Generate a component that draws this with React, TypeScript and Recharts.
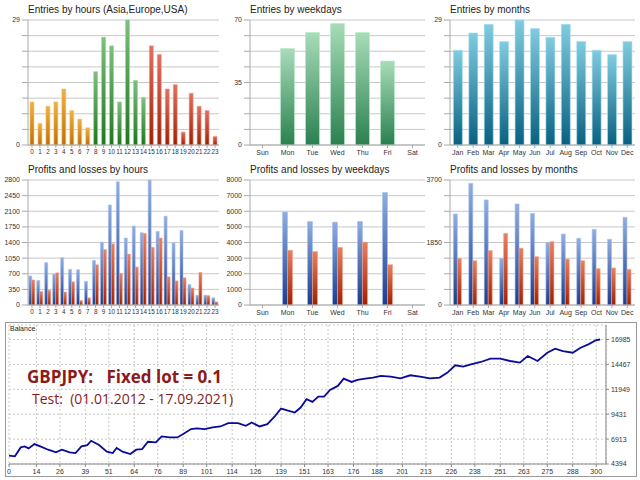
import React from "react";
import {
  Bar,
  BarChart,
  CartesianGrid,
  Line,
  LineChart,
  XAxis,
  YAxis,
} from "recharts";

const hours = Array.from({ length: 24 }, (_, i) => String(i));
const hourEntries = [10, 5, 9, 10, 13, 8, 6, 4, 17, 25, 23, 10, 29, 15, 11, 23, 21, 13, 14, 3, 12, 9, 8, 2];
const hourProfit = [650, 550, 950, 690, 1060, 800, 790, 530, 1000, 1410, 2240, 2760, 1500, 1770, 1620, 2800, 1650, 1990, 1390, 1670, 460, 220, 220, 160];
const hourLoss = [560, 300, 330, 720, 290, 520, 100, 160, 900, 1240, 1370, 710, 1140, 850, 1600, 1290, 1500, 630, 540, 610, 380, 730, 210, 70];

const weekdays = ["Sun", "Mon", "Tue", "Wed", "Thu", "Fri", "Sat"];
const weekdayEntries = [0, 54, 63, 68, 63, 47, 0];
const weekdayProfit = [0, 5950, 5350, 5300, 5350, 7200, 0];
const weekdayLoss = [0, 3500, 3420, 3680, 4020, 2580, 0];

const months = ["Jan", "Feb", "Mar", "Apr", "May", "Jun", "Jul", "Aug", "Sep", "Oct", "Nov", "Dec"];
const monthEntries = [22, 26, 28, 24, 29, 27, 25, 28, 24, 22, 21, 24];
const monthProfit = [2695, 3600, 3110, 1380, 2990, 2710, 1845, 2100, 1975, 2240, 1945, 2595];
const monthLoss = [1380, 1310, 1610, 2120, 1680, 1430, 1875, 1360, 1310, 1075, 1095, 1055];

const balanceX = [0, 3, 6, 8, 10, 13, 16, 20, 24, 27, 31, 34, 37, 40, 42, 46, 50, 53, 55, 58, 62, 65, 68, 71, 75, 78, 82, 86, 89, 93, 96, 100, 104, 108, 112, 117, 121, 124, 128, 132, 136, 139, 143, 146, 149, 152, 155, 158, 161, 164, 168, 171, 175, 178, 182, 186, 190, 195, 200, 205, 210, 215, 220, 224, 228, 232, 236, 241, 246, 251, 256, 261, 265, 270, 275, 279, 283, 288, 292, 296, 300, 302];
const balanceY = [5233, 5166, 6073, 6173, 5972, 6410, 6173, 5838, 5570, 5838, 5570, 5502, 6173, 6308, 6744, 6308, 5637, 5502, 6006, 5637, 5401, 5838, 5905, 6643, 6576, 7183, 7082, 7082, 7418, 7922, 7989, 7922, 8090, 8190, 8527, 8527, 8258, 8594, 8190, 8426, 9265, 10003, 9769, 9601, 10105, 10944, 10676, 11213, 11213, 11886, 12290, 13028, 12693, 12894, 13028, 13130, 13298, 13230, 13062, 13365, 13230, 13062, 13130, 13634, 14373, 14239, 14474, 14709, 15045, 15045, 14810, 14642, 15314, 14810, 15650, 16053, 15818, 15650, 16154, 16490, 16926, 16985];
const balanceXTicks = [0, 14, 26, 39, 51, 64, 76, 89, 101, 114, 126, 139, 151, 163, 176, 188, 201, 213, 226, 238, 251, 263, 275, 288, 300];
const balanceYTicks = [4394, 6913, 9431, 11949, 14467, 16985];

const font = "'Liberation Sans', Arial, sans-serif";
const tick = { fill: "#333", fontSize: 7, fontFamily: font };
const gridColor = "#c8c8c8";

function ticksOf(max: number) {
  return Array.from({ length: 9 }, (_, i) => (max * i) / 8);
}

function Grad({ id, top, bottom }: { id: string; top: string; bottom: string }) {
  return (
    <linearGradient id={id} x1="0" y1="0" x2="0" y2="1">
      <stop offset="0%" stopColor={top} />
      <stop offset="100%" stopColor={bottom} />
    </linearGradient>
  );
}

type PanelProps = {
  title: string;
  left: number;
  top: number;
  width: number;
  data: Record<string, string | number>[];
  max: number;
  shown: number[];
  children: React.ReactNode;
  gap?: string;
  xFont?: number;
};

function Panel({ title, left, top, width, data, max, shown, children, gap = "25%", xFont = 7 }: PanelProps) {
  return (
    <div style={{ position: "absolute", left, top, width, height: 158 }}>
      <div style={{ position: "absolute", left: 28, top: 4, fontSize: 10, fontFamily: font, color: "#222" }}>{title}</div>
      <BarChart width={width} height={158} data={data} margin={{ top: 20, right: 3, left: 0, bottom: 0 }} barCategoryGap={gap} barGap={0}>
        <defs>
          <Grad id="gOrange" top="#f0b040" bottom="#c07000" />
          <Grad id="gGreen" top="#7cc07c" bottom="#1a7a1a" />
          <Grad id="gRed" top="#e07060" bottom="#a02000" />
          <Grad id="gMint" top="#a8dcb8" bottom="#2a8050" />
          <Grad id="gCyan" top="#80cce0" bottom="#086080" />
          <Grad id="gBlue" top="#90aee0" bottom="#1a3c90" />
          <Grad id="gLoss" top="#e88060" bottom="#a02000" />
        </defs>
        <CartesianGrid vertical={false} stroke={gridColor} />
        <XAxis dataKey="name" tick={{ ...tick, fontSize: xFont }} interval={0} height={13} tickLine={{ stroke: "#aaa" }} axisLine={{ stroke: "#aaa" }} tickSize={3} />
        <YAxis
          width={28}
          domain={[0, max]}
          ticks={ticksOf(max)}
          interval={0}
          tick={tick}
          tickFormatter={(v: number) => (shown.includes(v) ? String(v) : "")}
          axisLine={{ stroke: "#aaa" }}
          tickLine={{ stroke: "#aaa" }}
          tickSize={6}
        />
        {children}
      </BarChart>
    </div>
  );
}

export default function App() {
  const hourEntryData = hours.map((h, i) => ({
    name: h,
    v: hourEntries[i],
    fill: i < 8 ? "url(#gOrange)" : i < 15 ? "url(#gGreen)" : "url(#gRed)",
    stroke: i < 8 ? "#f8c878" : i < 15 ? "#a0d8a0" : "#f0a090",
  }));
  const hourPL = hours.map((h, i) => ({ name: h, p: hourProfit[i], l: hourLoss[i] }));
  const wdEntryData = weekdays.map((d, i) => ({ name: d, v: weekdayEntries[i] }));
  const wdPL = weekdays.map((d, i) => ({ name: d, p: weekdayProfit[i], l: weekdayLoss[i] }));
  const mEntryData = months.map((m, i) => ({ name: m, v: monthEntries[i] }));
  const mPL = months.map((m, i) => ({ name: m, p: monthProfit[i], l: monthLoss[i] }));
  const balance = balanceX.map((x, i) => ({ x, y: balanceY[i] }));

  const plBars = [
    <Bar key="p" dataKey="p" fill="url(#gBlue)" stroke="#a8c0f0" strokeWidth={0.6} isAnimationActive={false} />,
    <Bar key="l" dataKey="l" fill="url(#gLoss)" stroke="#f0a088" strokeWidth={0.6} isAnimationActive={false} />,
  ];

  return (
    <div style={{ position: "fixed", left: 0, top: 0, width: 640, height: 480, background: "#fff", overflow: "hidden" }}>
      <Panel title="Entries by hours (Asia,Europe,USA)" left={0} top={0} width={222} data={hourEntryData} max={29} shown={[0, 29]} xFont={6.3}>
        <Bar dataKey="v" isAnimationActive={false} strokeWidth={0.6} />
      </Panel>
      <Panel title="Entries by weekdays" left={222} top={0} width={206} data={wdEntryData} max={70} shown={[0, 35, 70]} gap="22%">
        <Bar dataKey="v" fill="url(#gMint)" stroke="#b8ecc8" strokeWidth={0.6} isAnimationActive={false} />
      </Panel>
      <Panel title="Entries by months" left={422} top={0} width={216} data={mEntryData} max={29} shown={[0, 29]} gap="22%">
        <Bar dataKey="v" fill="url(#gCyan)" stroke="#a8e0f0" strokeWidth={0.6} isAnimationActive={false} />
      </Panel>

      <Panel title="Profits and losses by hours" left={0} top={160} width={222} data={hourPL} max={2800} shown={ticksOf(2800)} gap="10%" xFont={6.3}>
        {plBars}
      </Panel>
      <Panel title="Profits and losses by weekdays" left={222} top={160} width={206} data={wdPL} max={8000} shown={ticksOf(8000)} gap="30%">
        {plBars}
      </Panel>
      <Panel title="Profits and losses by months" left={422} top={160} width={216} data={mPL} max={3700} shown={[0, 1850, 3700]} gap="22%">
        {plBars}
      </Panel>

      <div style={{ position: "absolute", left: 5, top: 322, width: 632, height: 155, border: "1px solid #999", boxSizing: "border-box" }}>
        <LineChart width={630} height={153} data={balance} margin={{ top: 2, right: 0, left: 3, bottom: 0 }}>
          <CartesianGrid stroke="#c8c8c8" strokeDasharray="2 2" />
          <XAxis dataKey="x" type="number" domain={[0, 305]} ticks={balanceXTicks} interval={0} tick={tick} height={12} tickSize={3} axisLine={{ stroke: "#888" }} tickLine={{ stroke: "#888" }} />
          <YAxis orientation="right" type="number" domain={[4394, 18450]} ticks={balanceYTicks} interval={0} tick={tick} width={30} tickSize={3} axisLine={{ stroke: "#888" }} tickLine={{ stroke: "#888" }} />
          <Line dataKey="y" type="linear" stroke="#0a0a9a" strokeWidth={1.8} dot={false} isAnimationActive={false} />
        </LineChart>
        <div style={{ position: "absolute", left: 4, top: 2, fontSize: 7, fontFamily: font, color: "#222" }}>Balance</div>
        <div style={{ position: "absolute", left: 21, top: 42, fontSize: 17, fontWeight: "bold", fontFamily: "'Open Sans', sans-serif", color: "#8b1a1a", whiteSpace: "pre" }}>
          {"GBPJPY:   Fixed lot = 0.1"}
        </div>
        <div style={{ position: "absolute", left: 26, top: 66, fontSize: 14, fontFamily: "'Open Sans', sans-serif", color: "#8b1a1a", whiteSpace: "pre" }}>
          {"Test:  (01.01.2012 - 17.09.2021)"}
        </div>
      </div>
    </div>
  );
}
